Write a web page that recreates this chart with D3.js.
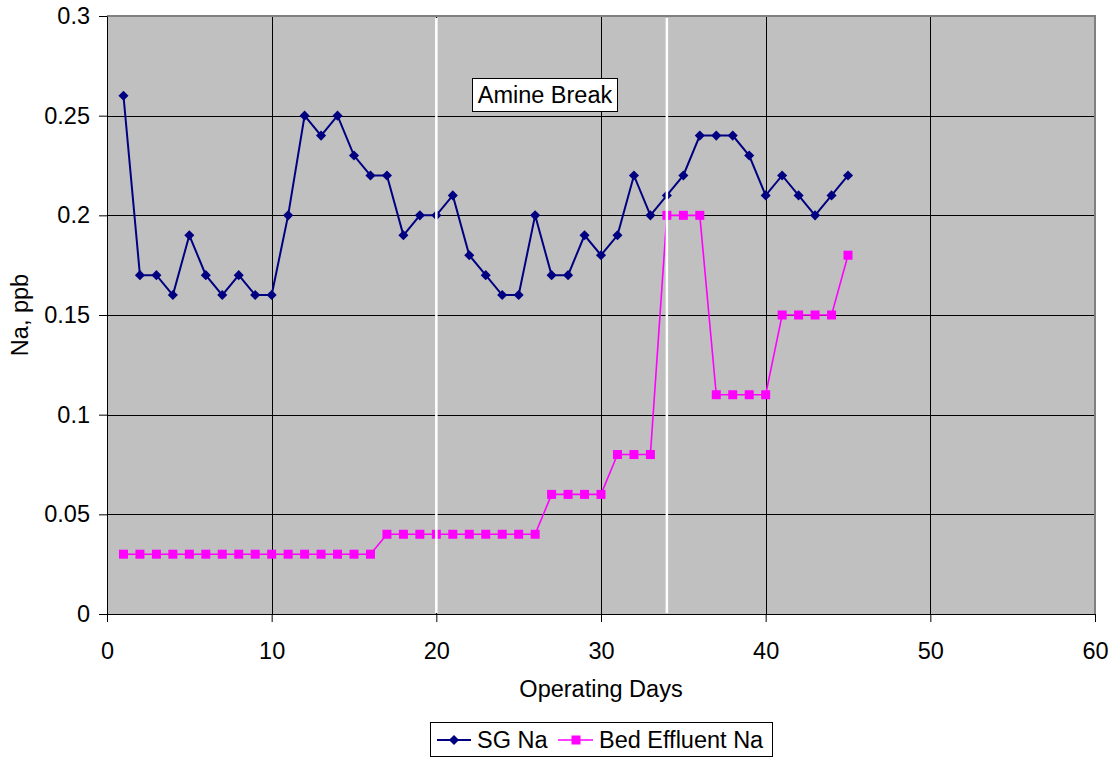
<!DOCTYPE html>
<html>
<head>
<meta charset="utf-8">
<script src="https://cdn.jsdelivr.net/npm/d3@7"></script>
<style>
  html, body { margin: 0; padding: 0; background: #fff; }
  svg text { font-family: "Liberation Sans", Arial, sans-serif; fill: #000; }
</style>
</head>
<body>
<svg id="chart" width="1112" height="757"></svg>
<script>
// Operating days 1..45
const days = d3.range(1, 46);
// Steam generator sodium, ppb
const sgNa = [0.26, 0.17, 0.17, 0.16, 0.19, 0.17, 0.16, 0.17, 0.16, 0.16,
              0.20, 0.25, 0.24, 0.25, 0.23, 0.22, 0.22, 0.19, 0.20, 0.20,
              0.21, 0.18, 0.17, 0.16, 0.16, 0.20, 0.17, 0.17, 0.19, 0.18,
              0.19, 0.22, 0.20, 0.21, 0.22, 0.24, 0.24, 0.24, 0.23, 0.21,
              0.22, 0.21, 0.20, 0.21, 0.22];
// Bed effluent sodium, ppb
const bedNa = [0.03, 0.03, 0.03, 0.03, 0.03, 0.03, 0.03, 0.03, 0.03, 0.03,
               0.03, 0.03, 0.03, 0.03, 0.03, 0.03, 0.04, 0.04, 0.04, 0.04,
               0.04, 0.04, 0.04, 0.04, 0.04, 0.04, 0.06, 0.06, 0.06, 0.06,
               0.08, 0.08, 0.08, 0.20, 0.20, 0.20, 0.11, 0.11, 0.11, 0.11,
               0.15, 0.15, 0.15, 0.15, 0.18];
const xTicks = [0, 10, 20, 30, 40, 50, 60];
const yTicks = [0, 0.05, 0.1, 0.15, 0.2, 0.25, 0.3];
// Day markers for the amine break event
const breakDays = [20, 34];
const breakLabel = "Amine Break";

const FS = 23.5;
const svg = d3.select("#chart");
const plot = { left: 107, right: 1095, top: 16, bottom: 614 };

const x = d3.scaleLinear().domain([0, 60]).range([plot.left, plot.right]);
const y = d3.scaleLinear().domain([0, 0.3]).range([plot.bottom, plot.top]);

// Plot background
svg.append("rect")
  .attr("x", plot.left).attr("y", plot.top)
  .attr("width", plot.right - plot.left).attr("height", plot.bottom - plot.top)
  .attr("fill", "#c0c0c0");

// Gridlines
svg.append("g")
  .selectAll("line").data(yTicks.filter(d => d > 0 && d < 0.3)).join("line")
  .attr("x1", plot.left).attr("x2", plot.right)
  .attr("y1", d => Math.round(y(d)) + 0.5).attr("y2", d => Math.round(y(d)) + 0.5)
  .attr("stroke", "#000").attr("stroke-width", 1);
svg.append("g")
  .selectAll("line").data(xTicks.filter(d => d > 0 && d < 60)).join("line")
  .attr("y1", plot.top).attr("y2", plot.bottom)
  .attr("x1", d => Math.round(x(d)) + 0.5).attr("x2", d => Math.round(x(d)) + 0.5)
  .attr("stroke", "#000").attr("stroke-width", 1);

// Plot border (top/right gray)
svg.append("path")
  .attr("d", `M${plot.left},${plot.top}H${plot.right}V${plot.bottom}`)
  .attr("fill", "none").attr("stroke", "#808080").attr("stroke-width", 2);

// Axes
const xAxis = d3.axisBottom(x).tickValues(xTicks).tickFormat(d3.format("d"))
  .tickSize(8).tickSizeOuter(0).tickPadding(20);
const gx = svg.append("g").attr("transform", `translate(0,${plot.bottom})`).call(xAxis);
gx.select(".domain").attr("stroke", "#000").attr("stroke-width", 1);
gx.selectAll(".tick line").attr("stroke", "#000");
gx.selectAll("text").attr("font-size", FS).attr("fill", "#000")
  .style("font-family", "'Liberation Sans', Arial, sans-serif");

const yAxis = d3.axisLeft(y).tickValues(yTicks).tickFormat(d => d3.format("")(+d.toFixed(2)))
  .tickSize(8).tickSizeOuter(0).tickPadding(9);
const gy = svg.append("g").attr("transform", `translate(${plot.left},0)`).call(yAxis);
gy.select(".domain").attr("stroke", "#000").attr("stroke-width", 1);
gy.selectAll(".tick line").attr("stroke", "#000");
gy.selectAll("text").attr("font-size", FS).attr("fill", "#000")
  .style("font-family", "'Liberation Sans', Arial, sans-serif");

// Axis titles
svg.append("text")
  .attr("x", 601).attr("y", 697)
  .attr("text-anchor", "middle").attr("font-size", FS)
  .text("Operating Days");
svg.append("text")
  .attr("transform", `translate(28,${(plot.top + plot.bottom) / 2}) rotate(-90)`)
  .attr("text-anchor", "middle").attr("font-size", FS)
  .text("Na, ppb");

// Series
const sgData = days.map((d, i) => [d, sgNa[i]]);
const bedData = days.map((d, i) => [d, bedNa[i]]);
const line = d3.line().x(d => x(d[0])).y(d => y(d[1]));

svg.append("path").datum(bedData)
  .attr("d", line).attr("fill", "none")
  .attr("stroke", "#ff00ff").attr("stroke-width", 1.6);
svg.append("g").selectAll("rect").data(bedData).join("rect")
  .attr("x", d => x(d[0]) - 4.5).attr("y", d => y(d[1]) - 4.5)
  .attr("width", 9).attr("height", 9).attr("fill", "#ff00ff");

svg.append("path").datum(sgData)
  .attr("d", line).attr("fill", "none")
  .attr("stroke", "#000080").attr("stroke-width", 2);
const diamond = d3.symbol().type(d3.symbolDiamond2).size(65);
svg.append("g").selectAll("path").data(sgData).join("path")
  .attr("transform", d => `translate(${x(d[0])},${y(d[1])})`)
  .attr("d", diamond).attr("fill", "#000080");

// Amine break markers
svg.append("g").selectAll("line").data(breakDays).join("line")
  .attr("x1", d => x(d)).attr("x2", d => x(d))
  .attr("y1", plot.top + 2).attr("y2", plot.bottom - 1)
  .attr("stroke", "#fff").attr("stroke-width", 2.5);

// Annotation label
const lbl = svg.append("g");
lbl.append("rect")
  .attr("x", 472.5).attr("y", 78.5).attr("width", 145).attr("height", 33)
  .attr("fill", "#fff").attr("stroke", "#000").attr("stroke-width", 1);
lbl.append("text")
  .attr("x", 545).attr("y", 103).attr("text-anchor", "middle")
  .attr("font-size", FS).text(breakLabel);

// Legend
const leg = svg.append("g");
leg.append("rect")
  .attr("x", 430.5).attr("y", 722.5).attr("width", 342).attr("height", 34)
  .attr("fill", "#fff").attr("stroke", "#000").attr("stroke-width", 1);
leg.append("line").attr("x1", 437).attr("x2", 471).attr("y1", 740).attr("y2", 740)
  .attr("stroke", "#000080").attr("stroke-width", 2);
leg.append("path").attr("transform", "translate(454,740)").attr("d", diamond).attr("fill", "#000080");
leg.append("text").attr("x", 477).attr("y", 748).attr("font-size", FS).text("SG Na");
leg.append("line").attr("x1", 558).attr("x2", 593).attr("y1", 740).attr("y2", 740)
  .attr("stroke", "#ff00ff").attr("stroke-width", 1.6);
leg.append("rect").attr("x", 571.5).attr("y", 735.5).attr("width", 9).attr("height", 9).attr("fill", "#ff00ff");
leg.append("text").attr("x", 599).attr("y", 748).attr("font-size", FS).text("Bed Effluent Na");
</script>
</body>
</html>
